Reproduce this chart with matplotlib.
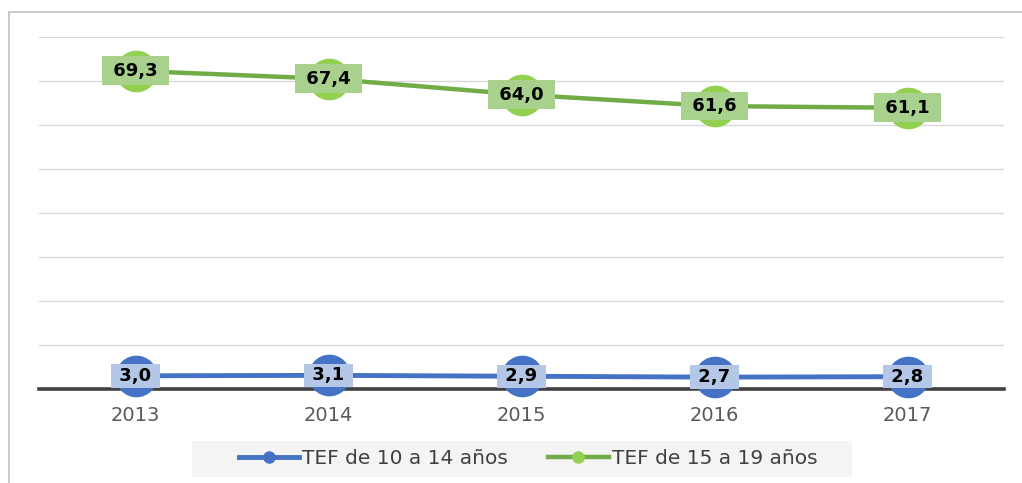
import matplotlib
matplotlib.use('Agg')
import matplotlib.pyplot as plt
from matplotlib.patches import Rectangle
from matplotlib.lines import Line2D
import numpy as np

years = ['2013', '2014', '2015', '2016', '2017']
tef_10_14 = [3.0, 3.1, 2.9, 2.7, 2.8]
tef_15_19 = [69.3, 67.4, 64.0, 61.6, 61.1]
series_names = ['TEF de 10 a 14 años', 'TEF de 15 a 19 años']

W, H = 1022, 483
fig = plt.figure(figsize=(W / 100, H / 100), dpi=100)
plt.rcParams['font.family'] = ['DejaVu Sans']

# outer chart frame (partially cut off)
fig.patches.append(Rectangle((9 / W, -0.2), 1.2, 1.2 - 12 / H + 0.0, transform=fig.transFigure,
                             fill=False, edgecolor='#c0c0c0', lw=1.2))

ax = fig.add_axes([39 / W, (H - 389) / H, (1004 - 39) / W, (389 - 37) / H])
x = np.arange(len(years))
blue = np.array(tef_10_14)
green_stacked = blue + np.array(tef_15_19)  # stacked line chart

ax.plot(x, blue, color='#4472c4', lw=3.5, marker='o', ms=29, mfc='#4472c4', mec='#4472c4',
        zorder=3, clip_on=False, solid_capstyle='round')
ax.plot(x, green_stacked, color='#70ad47', lw=3.2, marker='o', ms=29, mfc='#92d050', mec='#92d050',
        zorder=3, clip_on=False, solid_capstyle='round')

for xi, yv, v in zip(x, blue, tef_10_14):
    ax.text(xi, yv, ' ' + f'{v:.1f}'.replace('.', ',') + ' ', ha='center', va='center',
            fontsize=13, fontweight='bold', color='black', zorder=6,
            bbox=dict(boxstyle='square,pad=0.15', fc='#b4c7e7', ec='none'))
for xi, yv, v in zip(x, green_stacked, tef_15_19):
    ax.text(xi, yv, ' ' + f'{v:.1f}'.replace('.', ',') + ' ', ha='center', va='center',
            fontsize=13, fontweight='bold', color='black', zorder=6,
            bbox=dict(boxstyle='square,pad=0.3', fc='#a9d18e', ec='none'))

ax.set_xlim(-0.5, len(years) - 0.5)
ax.set_ylim(0, 80)
ax.set_yticks(np.arange(0, 81, 10))
ax.yaxis.grid(True, color='#d9d9d9', lw=1.0)
ax.set_axisbelow(True)
ax.set_xticks(x)
ax.set_xticklabels(years)
ax.tick_params(axis='x', length=0, pad=12, labelsize=14, labelcolor='#595959')
ax.tick_params(axis='y', left=False, labelleft=False)
for s in ['left', 'right', 'top']:
    ax.spines[s].set_visible(False)
ax.spines['bottom'].set_color('#404040')
ax.spines['bottom'].set_linewidth(2.6)
ax.spines['bottom'].set_zorder(2.6)

# legend background
fig.patches.append(Rectangle((192 / W, (H - 477) / H), (852 - 192) / W, 36 / H,
                             transform=fig.transFigure, facecolor='#f4f4f4', edgecolor='none', zorder=0))
handles = [
    Line2D([], [], color='#4472c4', lw=3.5, marker='o', ms=8, mfc='#4472c4', mec='#4472c4'),
    Line2D([], [], color='#70ad47', lw=3.2, marker='o', ms=8, mfc='#92d050', mec='#92d050'),
]
leg = fig.legend(handles, series_names, loc='center', bbox_to_anchor=(528 / W, 1 - 459 / H),
                 ncol=2, frameon=False, fontsize=14.5, handlelength=3.0, handletextpad=0.15,
                 columnspacing=2.0, labelcolor='#404040')

fig.savefig('out.png', dpi=100)
